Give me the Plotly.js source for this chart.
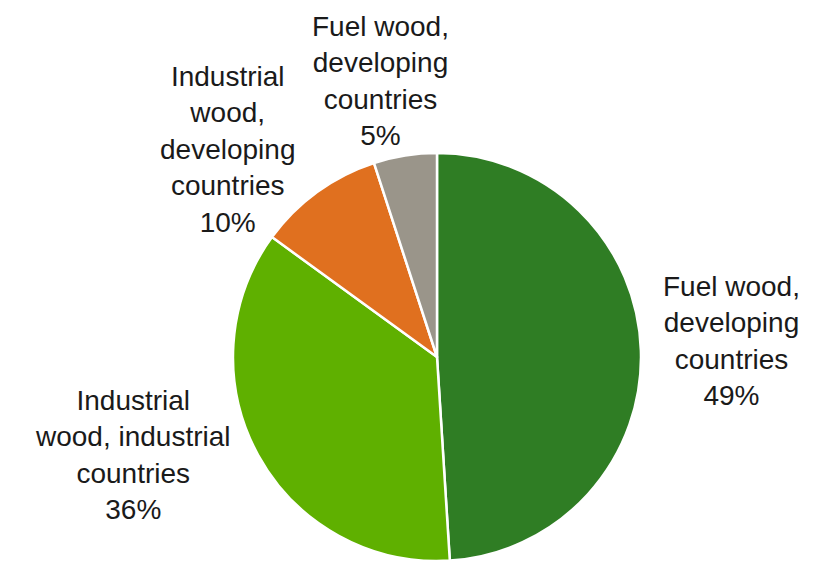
<!DOCTYPE html>
<html>
<head>
<meta charset="utf-8">
<script src="https://cdn.plot.ly/plotly-3.0.1.min.js"></script>
<style>html,body{margin:0;padding:0;background:#fff;}#chart{width:819px;height:561px;}</style>
</head>
<body>
<div id="chart"></div>
<script>
// Data
var categories = [
  "Fuel wood, developing countries",
  "Industrial wood, industrial countries",
  "Industrial wood, developing countries",
  "Fuel wood, developing countries (2)"
];
var labelLines = [
  ["Fuel wood,", "developing", "countries"],
  ["Industrial", "wood, industrial", "countries"],
  ["Industrial", "wood,", "developing", "countries"],
  ["Fuel wood,", "developing", "countries"]
];
var values = [49, 36, 10, 5];
var colors = ["#2f7d24", "#5fb000", "#e0701f", "#9a958a"];

// Label placement (pixel centers in the 819x561 page)
var labelPos = [[731, 341], [133, 455], [227, 150], [380, 81]];

var W = 819, H = 561;
var total = values.reduce(function(a, b){ return a + b; }, 0);

var annotations = labelLines.map(function(lines, i){
  var pct = Math.round(values[i] / total * 100) + "%";
  return {
    xref: "paper", yref: "paper",
    x: labelPos[i][0] / W, y: 1 - labelPos[i][1] / H,
    xanchor: "center", yanchor: "middle",
    text: lines.concat([pct]).join("<br>"),
    showarrow: false,
    align: "center",
    font: {family: "Liberation Sans, Arial, sans-serif", size: 28, color: "#1a1a1a"}
  };
});

var trace = {
  type: "pie",
  labels: categories,
  values: values,
  sort: false,
  direction: "clockwise",
  rotation: 0,
  textinfo: "none",
  hoverinfo: "label+percent",
  marker: {colors: colors, line: {color: "#ffffff", width: 2.5}},
  domain: {x: [233 / W, 641 / W], y: [0, 408 / H]},
  showlegend: false
};

var layout = {
  width: W, height: H,
  margin: {l: 0, r: 0, t: 0, b: 0},
  paper_bgcolor: "#ffffff",
  showlegend: false,
  annotations: annotations
};

Plotly.newPlot("chart", [trace], layout, {displayModeBar: false, staticPlot: true});
</script>
</body>
</html>
